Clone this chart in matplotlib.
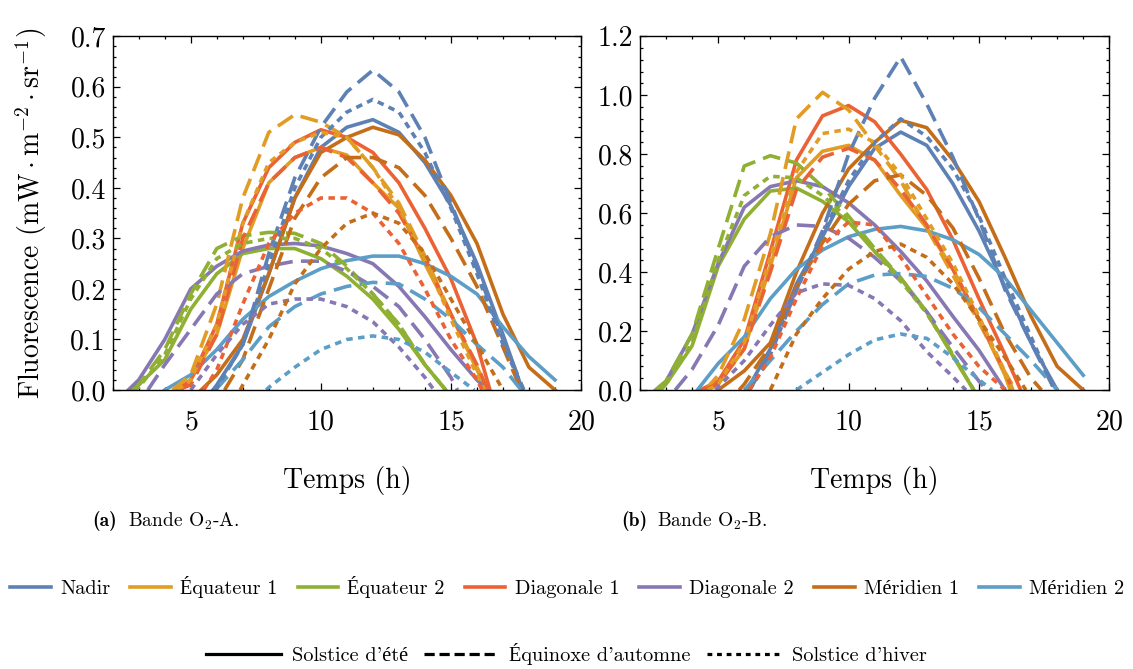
import matplotlib
matplotlib.use("Agg")
import matplotlib.pyplot as plt
from matplotlib.lines import Line2D
from matplotlib.ticker import MultipleLocator, FormatStrFormatter

plt.rcParams['font.family'] = ['cmr10', 'Liberation Serif', 'DejaVu Serif']
plt.rcParams['mathtext.fontset'] = 'cm'
plt.rcParams['axes.formatter.use_mathtext'] = True
plt.rcParams['axes.unicode_minus'] = False

# ---------------- data (hour, fluorescence) ----------------
locations = ["Nadir", "Équateur 1", "Équateur 2", "Diagonale 1", "Diagonale 2", "Méridien 1", "Méridien 2"]
seasons = ["Solstice d'été", "Équinoxe d'automne", "Solstice d'hiver"]
colors = ["#5E81B5", "#E19C24", "#8FB032", "#EB6235", "#8778B3", "#C56E1A", "#5D9EC7"]

# ---- Panel (a) : O2-A ----
A_nadir_ete = [(5.85, 0), (6, 0.01), (7, 0.09), (8, 0.23), (9, 0.38), (10, 0.48), (11, 0.52), (12, 0.535), (13, 0.51), (14, 0.45), (15, 0.365), (16, 0.25), (17, 0.11), (17.75, 0)]
A_nadir_equ = [(5.95, 0), (7, 0.09), (8, 0.27), (9, 0.42), (10, 0.52), (11, 0.59), (12, 0.633), (13, 0.59), (14, 0.50), (15, 0.37), (16, 0.24), (17, 0.10), (17.8, 0)]
A_nadir_hiv = [(5.95, 0), (7, 0.09), (8, 0.25), (9, 0.40), (10, 0.50), (11, 0.55), (12, 0.575), (13, 0.55), (14, 0.47), (15, 0.36), (16, 0.23), (17, 0.09), (17.8, 0)]
A_eq1_ete = [(4.5, 0), (5, 0.02), (6, 0.11), (7, 0.28), (8, 0.41), (9, 0.46), (10, 0.48), (11, 0.465), (12, 0.41), (13, 0.36), (14, 0.25), (15, 0.15), (16, 0.04), (16.4, 0)]
A_eq1_equ = [(4.3, 0), (5, 0.03), (6, 0.17), (7, 0.38), (8, 0.51), (9, 0.545), (10, 0.53), (11, 0.50), (12, 0.44), (13, 0.37), (14, 0.265), (15, 0.15), (16, 0.045), (16.45, 0)]
A_eq1_hiv = [(4.5, 0), (5, 0.02), (6, 0.13), (7, 0.33), (8, 0.45), (9, 0.49), (10, 0.51), (11, 0.50), (12, 0.44), (13, 0.36), (14, 0.26), (15, 0.14), (16, 0.03), (16.3, 0)]
A_eq2_ete = [(2.7, 0), (3, 0.01), (4, 0.06), (5, 0.16), (6, 0.23), (7, 0.27), (8, 0.28), (9, 0.28), (10, 0.26), (11, 0.225), (12, 0.18), (13, 0.12), (14, 0.05), (14.8, 0)]
A_eq2_equ = [(2.8, 0), (3, 0.01), (4, 0.08), (5, 0.19), (6, 0.28), (7, 0.305), (8, 0.312), (9, 0.31), (10, 0.29), (11, 0.245), (12, 0.19), (13, 0.13), (14, 0.05), (14.8, 0)]
A_eq2_hiv = [(2.8, 0), (3, 0.005), (4, 0.07), (5, 0.18), (6, 0.26), (7, 0.29), (8, 0.30), (9, 0.30), (10, 0.28), (11, 0.24), (12, 0.19), (13, 0.13), (14, 0.05), (14.8, 0)]
A_diag1_ete = [(4.5, 0), (5, 0.02), (6, 0.13), (7, 0.33), (8, 0.44), (9, 0.49), (10, 0.515), (11, 0.50), (12, 0.47), (13, 0.41), (14, 0.32), (15, 0.22), (16, 0.09), (16.5, 0)]
A_diag1_equ = [(4.5, 0), (5, 0.01), (6, 0.11), (7, 0.30), (8, 0.41), (9, 0.46), (10, 0.48), (11, 0.46), (12, 0.41), (13, 0.35), (14, 0.26), (15, 0.15), (16, 0.05), (16.4, 0)]
A_diag1_hiv = [(5.5, 0), (6, 0.04), (7, 0.17), (8, 0.29), (9, 0.35), (10, 0.38), (11, 0.38), (12, 0.35), (13, 0.29), (14, 0.20), (15, 0.10), (16, 0.02), (16.2, 0)]
A_diag2_ete = [(2.6, 0), (3, 0.02), (4, 0.10), (5, 0.20), (6, 0.245), (7, 0.275), (8, 0.287), (9, 0.29), (10, 0.285), (11, 0.27), (12, 0.25), (13, 0.205), (14, 0.145), (15, 0.08), (16, 0.02), (16.4, 0)]
A_diag2_equ = [(3.35, 0), (4, 0.05), (5, 0.12), (6, 0.19), (7, 0.23), (8, 0.245), (9, 0.255), (10, 0.255), (11, 0.235), (12, 0.205), (13, 0.165), (14, 0.10), (15, 0.025), (15.25, 0)]
A_diag2_hiv = [(5.0, 0), (6, 0.07), (7, 0.13), (8, 0.17), (9, 0.18), (10, 0.18), (11, 0.165), (12, 0.135), (13, 0.085), (14, 0.025), (14.35, 0)]
A_mer1_ete = [(5.4, 0), (6, 0.03), (7, 0.10), (8, 0.23), (9, 0.38), (10, 0.47), (11, 0.50), (12, 0.52), (13, 0.505), (14, 0.455), (15, 0.385), (16, 0.29), (17, 0.15), (18, 0.045), (19, 0)]
A_mer1_equ = [(6.3, 0), (7, 0.06), (8, 0.20), (9, 0.34), (10, 0.42), (11, 0.46), (12, 0.46), (13, 0.44), (14, 0.385), (15, 0.30), (16, 0.205), (17, 0.085), (17.7, 0)]
A_mer1_hiv = [(6.9, 0), (7, 0.01), (8, 0.10), (9, 0.21), (10, 0.28), (11, 0.33), (12, 0.35), (13, 0.33), (14, 0.27), (15, 0.18), (16, 0.09), (17, 0)]
A_mer2_ete = [(4.0, 0), (5, 0.03), (6, 0.08), (7, 0.14), (8, 0.185), (9, 0.215), (10, 0.24), (11, 0.256), (12, 0.265), (13, 0.265), (14, 0.25), (15, 0.225), (16, 0.19), (17, 0.125), (18, 0.066), (19, 0.02)]
A_mer2_equ = [(5.95, 0), (7, 0.06), (8, 0.125), (9, 0.165), (10, 0.19), (11, 0.205), (12, 0.213), (13, 0.21), (14, 0.18), (15, 0.14), (16, 0.09), (17, 0.045), (17.7, 0)]
A_mer2_hiv = [(7.9, 0), (8, 0.005), (9, 0.045), (10, 0.08), (11, 0.10), (12, 0.107), (13, 0.10), (14, 0.075), (15, 0.035), (15.9, 0)]

# ---- Panel (b) : O2-B ----
B_nadir_ete = [(6.1, 0), (7, 0.14), (8, 0.36), (9, 0.52), (10, 0.69), (11, 0.82), (12, 0.875), (13, 0.83), (14, 0.70), (15, 0.54), (16, 0.35), (17, 0.16), (18, 0)]
B_nadir_equ = [(6.2, 0), (7, 0.12), (8, 0.34), (9, 0.54), (10, 0.80), (11, 0.99), (12, 1.13), (13, 0.97), (14, 0.79), (15, 0.58), (16, 0.34), (17, 0.16), (17.9, 0)]
B_nadir_hiv = [(6.2, 0), (7, 0.12), (8, 0.34), (9, 0.53), (10, 0.71), (11, 0.84), (12, 0.92), (13, 0.86), (14, 0.75), (15, 0.59), (16, 0.38), (17, 0.18), (17.9, 0)]
B_eq1_ete = [(4.6, 0), (5, 0.02), (6, 0.14), (7, 0.42), (8, 0.72), (9, 0.81), (10, 0.83), (11, 0.78), (12, 0.66), (13, 0.55), (14, 0.41), (15, 0.24), (16, 0.05), (16.2, 0)]
B_eq1_equ = [(4.5, 0), (5, 0.05), (6, 0.24), (7, 0.53), (8, 0.92), (9, 1.01), (10, 0.95), (11, 0.83), (12, 0.71), (13, 0.55), (14, 0.39), (15, 0.23), (16, 0.06), (16.4, 0)]
B_eq1_hiv = [(4.6, 0), (5, 0.02), (6, 0.16), (7, 0.45), (8, 0.74), (9, 0.87), (10, 0.885), (11, 0.84), (12, 0.73), (13, 0.58), (14, 0.43), (15, 0.25), (16, 0.06), (16.3, 0)]
B_eq2_ete = [(2.8, 0), (3, 0.02), (4, 0.15), (5, 0.42), (6, 0.58), (7, 0.675), (8, 0.685), (9, 0.64), (10, 0.57), (11, 0.47), (12, 0.38), (13, 0.265), (14, 0.115), (14.8, 0)]
B_eq2_equ = [(2.6, 0), (3, 0.03), (4, 0.19), (5, 0.48), (6, 0.76), (7, 0.795), (8, 0.77), (9, 0.69), (10, 0.59), (11, 0.48), (12, 0.38), (13, 0.26), (14, 0.12), (14.8, 0)]
B_eq2_hiv = [(2.7, 0), (3, 0.02), (4, 0.16), (5, 0.44), (6, 0.66), (7, 0.725), (8, 0.72), (9, 0.66), (10, 0.58), (11, 0.47), (12, 0.37), (13, 0.26), (14, 0.12), (14.8, 0)]
B_diag1_ete = [(4.3, 0), (5, 0.03), (6, 0.17), (7, 0.47), (8, 0.78), (9, 0.93), (10, 0.965), (11, 0.91), (12, 0.80), (13, 0.68), (14, 0.51), (15, 0.31), (16, 0.12), (16.6, 0)]
B_diag1_equ = [(4.4, 0), (5, 0.02), (6, 0.14), (7, 0.40), (8, 0.68), (9, 0.79), (10, 0.82), (11, 0.78), (12, 0.68), (13, 0.56), (14, 0.41), (15, 0.24), (16, 0.06), (16.3, 0)]
B_diag1_hiv = [(6.2, 0), (7, 0.11), (8, 0.31), (9, 0.49), (10, 0.57), (11, 0.56), (12, 0.45), (13, 0.32), (14, 0.19), (15, 0.08), (16, 0)]
B_diag2_ete = [(2.6, 0), (3, 0.03), (4, 0.19), (5, 0.43), (6, 0.62), (7, 0.69), (8, 0.71), (9, 0.69), (10, 0.635), (11, 0.56), (12, 0.47), (13, 0.37), (14, 0.25), (15, 0.135), (16, 0)]
B_diag2_equ = [(3.35, 0), (4, 0.07), (5, 0.22), (6, 0.42), (7, 0.52), (8, 0.56), (9, 0.555), (10, 0.515), (11, 0.45), (12, 0.37), (13, 0.265), (14, 0.145), (15, 0.03), (15.3, 0)]
B_diag2_hiv = [(4.9, 0), (5, 0.01), (6, 0.10), (7, 0.22), (8, 0.33), (9, 0.36), (10, 0.355), (11, 0.31), (12, 0.235), (13, 0.13), (14, 0.045), (14.5, 0)]
B_mer1_ete = [(5.0, 0), (6, 0.065), (7, 0.16), (8, 0.40), (9, 0.60), (10, 0.75), (11, 0.84), (12, 0.915), (13, 0.89), (14, 0.78), (15, 0.64), (16, 0.45), (17, 0.25), (18, 0.08), (19, 0)]
B_mer1_equ = [(5.8, 0), (6, 0.02), (7, 0.15), (8, 0.35), (9, 0.50), (10, 0.63), (11, 0.71), (12, 0.73), (13, 0.66), (14, 0.55), (15, 0.38), (16, 0.19), (17, 0.04), (17.4, 0)]
B_mer1_hiv = [(7.0, 0), (8, 0.19), (9, 0.31), (10, 0.41), (11, 0.47), (12, 0.495), (13, 0.45), (14, 0.36), (15, 0.24), (16, 0.11), (16.8, 0)]
B_mer2_ete = [(4.2, 0), (5, 0.09), (6, 0.18), (7, 0.31), (8, 0.41), (9, 0.475), (10, 0.52), (11, 0.545), (12, 0.555), (13, 0.54), (14, 0.51), (15, 0.46), (16, 0.38), (17, 0.27), (18, 0.16), (19, 0.05)]
B_mer2_equ = [(6.0, 0), (7, 0.10), (8, 0.20), (9, 0.29), (10, 0.36), (11, 0.39), (12, 0.395), (13, 0.385), (14, 0.345), (15, 0.28), (16, 0.19), (17, 0.10), (18, 0)]
B_mer2_hiv = [(8.0, 0), (9, 0.06), (10, 0.12), (11, 0.17), (12, 0.19), (13, 0.175), (14, 0.11), (15, 0.035), (15.5, 0)]

panel_a = [
    [A_nadir_ete, A_nadir_equ, A_nadir_hiv],
    [A_eq1_ete, A_eq1_equ, A_eq1_hiv],
    [A_eq2_ete, A_eq2_equ, A_eq2_hiv],
    [A_diag1_ete, A_diag1_equ, A_diag1_hiv],
    [A_diag2_ete, A_diag2_equ, A_diag2_hiv],
    [A_mer1_ete, A_mer1_equ, A_mer1_hiv],
    [A_mer2_ete, A_mer2_equ, A_mer2_hiv],
]
panel_b = [
    [B_nadir_ete, B_nadir_equ, B_nadir_hiv],
    [B_eq1_ete, B_eq1_equ, B_eq1_hiv],
    [B_eq2_ete, B_eq2_equ, B_eq2_hiv],
    [B_diag1_ete, B_diag1_equ, B_diag1_hiv],
    [B_diag2_ete, B_diag2_equ, B_diag2_hiv],
    [B_mer1_ete, B_mer1_equ, B_mer1_hiv],
    [B_mer2_ete, B_mer2_equ, B_mer2_hiv],
]

# ---------------- styling ----------------
LW = 2.6
styles = ["-", (0, (5.0, 2.3)), (0, (1.8, 1.5))]

fig = plt.figure(figsize=(11.33, 6.69), dpi=100)
W, H = 1133, 669
axA = fig.add_axes([112.7 / W, 1 - 390 / H, (581 - 112.7) / W, (390 - 36.3) / H])
axB = fig.add_axes([640 / W, 1 - 390 / H, (1109.3 - 640) / W, (390 - 36.3) / H])


def draw(ax, panel):
    for si, style in enumerate(styles):
        for li, col in enumerate(colors):
            pts = panel[li][si]
            xs = [p[0] for p in pts]
            ys = [p[1] for p in pts]
            ax.plot(xs, ys, color=col, lw=LW, linestyle=style)


draw(axA, panel_a)
draw(axB, panel_b)

for ax, ymax, ymaj, ymin in [(axA, 0.7, 0.1, 0.02), (axB, 1.2, 0.2, 0.04)]:
    ax.set_xlim(2, 20)
    ax.set_ylim(0, ymax)
    ax.xaxis.set_major_locator(MultipleLocator(5))
    ax.xaxis.set_minor_locator(MultipleLocator(1))
    ax.yaxis.set_major_locator(MultipleLocator(ymaj))
    ax.yaxis.set_minor_locator(MultipleLocator(ymin))
    ax.tick_params(which='both', direction='in', top=True, right=True, width=0.9, labelsize=20)
    ax.tick_params(which='major', length=5)
    ax.tick_params(which='minor', length=2.5)
    ax.tick_params(axis='x', which='major', pad=14)
    ax.tick_params(axis='y', which='major', pad=5)
    ax.yaxis.set_major_formatter(FormatStrFormatter('%.1f'))
    for sp in ax.spines.values():
        sp.set_linewidth(1.0)
    ax.set_xlabel("Temps (h)", fontsize=20)
    ax.xaxis.set_label_coords(0.5, -0.215)

axA.set_ylabel(r"Fluorescence $(\mathrm{mW}\cdot\mathrm{m}^{-2}\cdot\mathrm{sr}^{-1})$", fontsize=20)
axA.yaxis.set_label_coords(-0.135, 0.5)

# captions
fig.text(92 / W, 1 - 521 / H, "(a)", fontsize=14, va='center', ha='left', family=['cmb10', 'DejaVu Serif'])
fig.text(128 / W, 1 - 521 / H, r"Bande O$_2$-A.", fontsize=14, va='center', ha='left')
fig.text(621 / W, 1 - 521 / H, "(b)", fontsize=14, va='center', ha='left', family=['cmb10', 'DejaVu Serif'])
fig.text(657 / W, 1 - 521 / H, r"Bande O$_2$-B.", fontsize=14, va='center', ha='left')

# legends
loc_handles = [Line2D([], [], color=c, lw=LW) for c in colors]
fig.legend(loc_handles, locations, loc='center', bbox_to_anchor=(0.5005, 1 - 587 / H),
           ncol=7, frameon=False, fontsize=14.6, handlelength=2.0, handletextpad=0.45,
           columnspacing=1.0, borderpad=0, borderaxespad=0)
season_handles = [Line2D([], [], color='black', lw=2.3, linestyle='-'),
                  Line2D([], [], color='black', lw=2.3, linestyle=(0, (3.2, 1.5))),
                  Line2D([], [], color='black', lw=2.3, linestyle=(0, (1.5, 1.5)))]
fig.legend(season_handles, seasons, loc='center', bbox_to_anchor=(0.5, 1 - 654 / H),
           ncol=3, frameon=False, fontsize=14.6, handlelength=3.7, handletextpad=0.5,
           columnspacing=0.8, borderpad=0, borderaxespad=0)

fig.savefig("out.png", dpi=100)
